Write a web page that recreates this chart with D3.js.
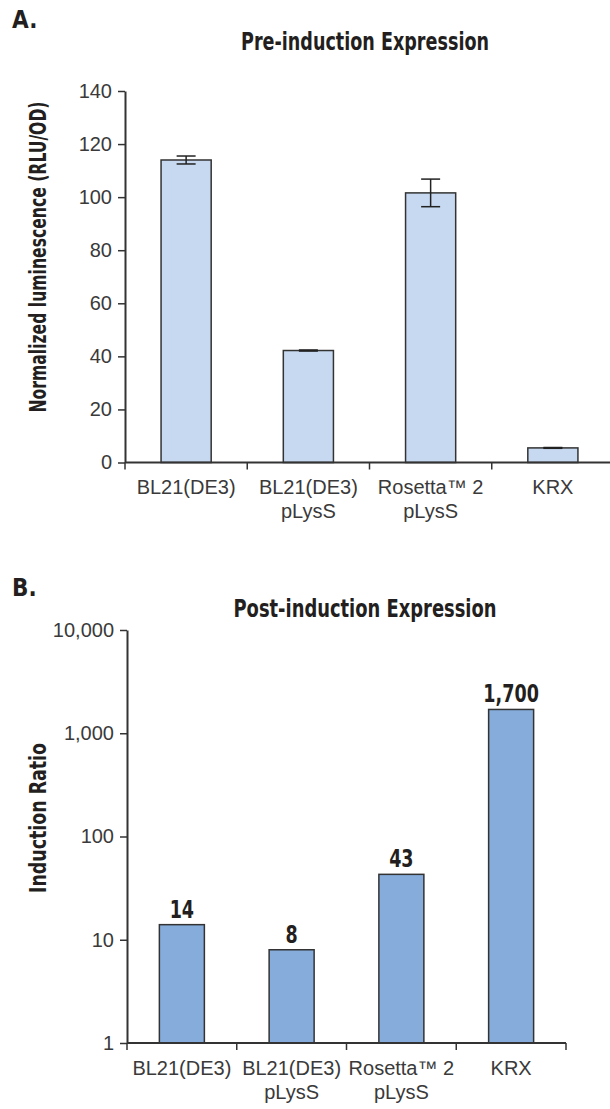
<!DOCTYPE html>
<html lang="en">
<head>
<meta charset="utf-8">
<title>Pre- and Post-induction Expression</title>
<script src="https://d3js.org/d3.v7.min.js"></script>
<style>
  body { margin: 0; background: #fff; }
  .tick text, .cat { font-family: "Liberation Sans", Arial, sans-serif; font-size: 20px; fill: #3a3a3a; }
  .bold { font-family: "Liberation Sans Narrow", "DejaVu Sans Condensed", sans-serif; font-weight: bold; fill: #231f20; }
</style>
</head>
<body>
<script>
// data
var strains = ["BL21(DE3)", "BL21(DE3) pLysS", "Rosetta™ 2 pLysS", "KRX"];
var strainLines = [["BL21(DE3)"], ["BL21(DE3)", "pLysS"], ["Rosetta™ 2", "pLysS"], ["KRX"]];
var preMeans = [114, 42.2, 101.6, 5.5];
var preErrors = [1.5, 0.2, 5.2, 0.15];
var preTicks = [0, 20, 40, 60, 80, 100, 120, 140];
var inductionRatios = [14, 8, 43, 1700];
var ratioLabels = ["14", "8", "43", "1,700"];
var postTicks = [1, 10, 100, 1000, 10000];

var svg = d3.select("body").append("svg")
    .attr("width", 610)
    .attr("height", 1109);

var axisColor = "#333";

// shared helpers
function drawBottom(g, x, y0, labelTop) {
  var edges = strains.map(function(d) { return x(d); }).concat([x.range()[1]]);
  g.append("line")
      .attr("x1", x.range()[0]).attr("x2", x.range()[1])
      .attr("y1", y0).attr("y2", y0)
      .attr("stroke", axisColor).attr("stroke-width", 2);
  g.selectAll(".edge").data(edges).enter().append("line")
      .attr("class", "edge")
      .attr("x1", function(d) { return d; }).attr("x2", function(d) { return d; })
      .attr("y1", y0).attr("y2", y0 + 7)
      .attr("stroke", axisColor).attr("stroke-width", 1.5);
  var lab = g.selectAll(".cat").data(strains).enter().append("text")
      .attr("class", "cat")
      .attr("text-anchor", "middle")
      .attr("x", function(d) { return x(d) + x.bandwidth() / 2; })
      .attr("y", y0 + labelTop);
  lab.selectAll("tspan")
      .data(function(d, i) { return strainLines[i]; })
      .enter().append("tspan")
      .attr("x", function() { return d3.select(this.parentNode).attr("x"); })
      .attr("dy", function(d, i) { return i ? 24 : 0; })
      .text(function(d) { return d; });
}

function styleAxis(g) {
  g.attr("color", axisColor);
  g.select(".domain").attr("stroke-width", 2);
  g.selectAll(".tick line").attr("stroke-width", 1.5);
}

// ---------- A. Pre-induction ----------
var gA = svg.append("g");
var xA = d3.scaleBand().domain(strains).range([125, 614]);
var yA = d3.scaleLinear().domain([0, 140]).range([462.5, 91]);

gA.append("text").attr("class", "bold").attr("x", 12).attr("y", 28)
    .attr("font-size", 24).text("A.");
gA.append("text").attr("class", "bold").attr("x", 365).attr("y", 50)
    .attr("text-anchor", "middle").attr("font-size", 25)
    .attr("textLength", 248).attr("lengthAdjust", "spacingAndGlyphs")
    .text("Pre-induction Expression");
gA.append("text").attr("class", "bold")
    .attr("transform", "translate(46,257) rotate(-90)")
    .attr("text-anchor", "middle").attr("font-size", 23)
    .attr("textLength", 311).attr("lengthAdjust", "spacingAndGlyphs")
    .text("Normalized luminescence (RLU/OD)");

gA.selectAll(".bar").data(preMeans).enter().append("rect")
    .attr("class", "bar")
    .attr("x", function(d, i) { return xA(strains[i]) + xA.bandwidth() * 0.295; })
    .attr("width", xA.bandwidth() * 0.41)
    .attr("y", function(d) { return yA(d); })
    .attr("height", function(d) { return yA(0) - yA(d); })
    .attr("fill", "#c6d9f0")
    .attr("stroke", "#333").attr("stroke-width", 1.5);

var err = gA.selectAll(".err").data(preMeans).enter().append("g")
    .attr("class", "err")
    .attr("stroke", "#222").attr("stroke-width", 1.5)
    .attr("transform", function(d, i) { return "translate(" + (xA(strains[i]) + xA.bandwidth() / 2) + ",0)"; });
err.append("line")
    .attr("y1", function(d, i) { return yA(d + preErrors[i]); })
    .attr("y2", function(d, i) { return yA(d - preErrors[i]); });
err.append("line").attr("x1", -9.5).attr("x2", 9.5)
    .attr("y1", function(d, i) { return yA(d + preErrors[i]); })
    .attr("y2", function(d, i) { return yA(d + preErrors[i]); });
err.append("line").attr("x1", -9.5).attr("x2", 9.5)
    .attr("y1", function(d, i) { return yA(d - preErrors[i]); })
    .attr("y2", function(d, i) { return yA(d - preErrors[i]); });

gA.append("g")
    .attr("transform", "translate(125,0)")
    .call(d3.axisLeft(yA).tickValues(preTicks).tickSize(7).tickSizeOuter(0).tickPadding(6))
    .call(styleAxis);

drawBottom(gA, xA, yA(0), 31);

// ---------- B. Post-induction ----------
var gB = svg.append("g");
var xB = d3.scaleBand().domain(strains).range([127, 566]);
var yB = d3.scaleLog().domain([1, 10000]).range([1043, 630]);

gB.append("text").attr("class", "bold").attr("x", 12).attr("y", 596)
    .attr("font-size", 24).text("B.");
gB.append("text").attr("class", "bold").attr("x", 365).attr("y", 617)
    .attr("text-anchor", "middle").attr("font-size", 25)
    .attr("textLength", 263).attr("lengthAdjust", "spacingAndGlyphs")
    .text("Post-induction Expression");
gB.append("text").attr("class", "bold")
    .attr("transform", "translate(46,818) rotate(-90)")
    .attr("text-anchor", "middle").attr("font-size", 23)
    .attr("textLength", 150).attr("lengthAdjust", "spacingAndGlyphs")
    .text("Induction Ratio");

gB.selectAll(".bar").data(inductionRatios).enter().append("rect")
    .attr("class", "bar")
    .attr("x", function(d, i) { return xB(strains[i]) + xB.bandwidth() * 0.295; })
    .attr("width", xB.bandwidth() * 0.41)
    .attr("y", function(d) { return yB(d); })
    .attr("height", function(d) { return yB(1) - yB(d); })
    .attr("fill", "#85acdb")
    .attr("stroke", "#333").attr("stroke-width", 1.5);

gB.selectAll(".val").data(inductionRatios).enter().append("text")
    .attr("class", "bold val")
    .attr("text-anchor", "middle").attr("font-size", 25)
    .attr("x", function(d, i) { return xB(strains[i]) + xB.bandwidth() / 2; })
    .attr("y", function(d) { return yB(d) - 7; })
    .text(function(d, i) { return ratioLabels[i]; })
    .each(function() {
      // squeeze to the condensed look of the original lettering
      var w = this.getComputedTextLength();
      d3.select(this).attr("textLength", w * 0.78).attr("lengthAdjust", "spacingAndGlyphs");
    });

gB.append("g")
    .attr("transform", "translate(127,0)")
    .call(d3.axisLeft(yB).tickValues(postTicks).tickFormat(d3.format(",")).tickSize(7).tickSizeOuter(0).tickPadding(6))
    .call(styleAxis);

drawBottom(gB, xB, yB(1), 32);
</script>
</body>
</html>
